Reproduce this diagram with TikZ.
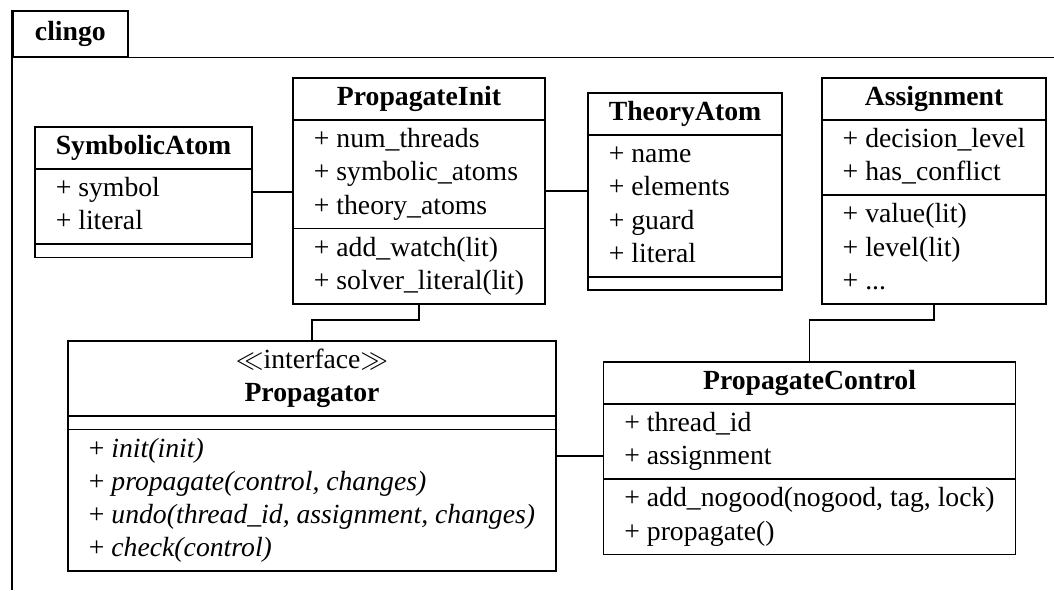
\documentclass[tikz,border=0pt]{standalone}
\usepackage{fontspec}
\setmainfont{Liberation Serif}
\usetikzlibrary{shapes.multipart}

\newcommand{\cls}[1]{\strut\textbf{#1}}
\newcommand{\mbr}[1]{\strut+ #1}
\newcommand{\nombr}{\raisebox{0pt}[1.6pt][0pt]{}}

\tikzset{
	umlclass/.style={draw,line width=0.6pt,rectangle split,rectangle split parts=3,align=left,
		rectangle split part align={center,left,left},inner xsep=7.5pt,inner ysep=1.3pt,anchor=north},
	link/.style={line width=0.6pt}
}

\begin{document}
\begin{tikzpicture}[x=0.361pt,y=-0.361pt]
				\useasboundingbox (0,0) rectangle (1054,590);
				\coordinate (edge) at (1054,0);
				\coordinate (foot) at (0,590);
				\coordinate (bend) at (0,320);
				\node[draw,line width=0.6pt,inner xsep=8pt,inner ysep=2.3pt,anchor=north west] (pkg) at (12,10) {\cls{clingo}};
				\draw[link] (pkg.south west) -- (pkg.south west -| edge);
				\draw[link] (pkg.north west) -- (pkg.north west |- foot);
				\node[umlclass] (symb) at (143.5,126) {\cls{SymbolicAtom}
					\nodepart{two}\mbr{symbol}\\\mbr{literal}
					\nodepart{three}\nombr};
				\node[umlclass] (pinit) at (419,77) {\cls{PropagateInit}
					\nodepart{two}\mbr{num\_threads}\\\mbr{symbolic\_atoms}\\\mbr{theory\_atoms}
					\nodepart{three}\mbr{add\_watch(lit)}\\\mbr{solver\_literal(lit)}};
				\node[umlclass] (theory) at (685,92) {\cls{TheoryAtom}
					\nodepart{two}\mbr{name}\\\mbr{elements}\\\mbr{guard}\\\mbr{literal}
					\nodepart{three}\nombr};
				\node[umlclass] (asg) at (934,77) {\cls{Assignment}
					\nodepart{two}\mbr{decision\_level}\\\mbr{has\_conflict}
					\nodepart{three}\mbr{value(lit)}\\\mbr{level(lit)}\\\mbr{...}};
				\node[umlclass] (prop) at (312,340) {\begin{tabular}{@{}c@{}}$\ll$interface$\gg$\\\textbf{Propagator}\end{tabular}
					\nodepart{two}\nombr
					\nodepart{three}\mbr{\textit{init(init)}}\\\mbr{\textit{propagate(control, changes)}}\\\mbr{\textit{undo(thread\_id, assignment, changes)}}\\\mbr{\textit{check(control)}}};
				\node[umlclass] (pctl) at (809.5,361) {\cls{PropagateControl}
					\nodepart{two}\mbr{thread\_id}\\\mbr{assignment}
					\nodepart{three}\mbr{add\_nogood(nogood, tag, lock)}\\\mbr{propagate()}};
				\draw[link] (symb.east) -- (symb.east -| pinit.west);
				\draw[link] (pinit.east) -- (pinit.east -| theory.west);
				\draw[link] (pinit.south) -- (pinit.south |- bend) -| (prop.north);
				\draw[link] (asg.south) -- (asg.south |- bend) -| (pctl.north);
				\draw[link] (prop.east) -- (prop.east -| pctl.west);
			\end{tikzpicture}
\end{document}
